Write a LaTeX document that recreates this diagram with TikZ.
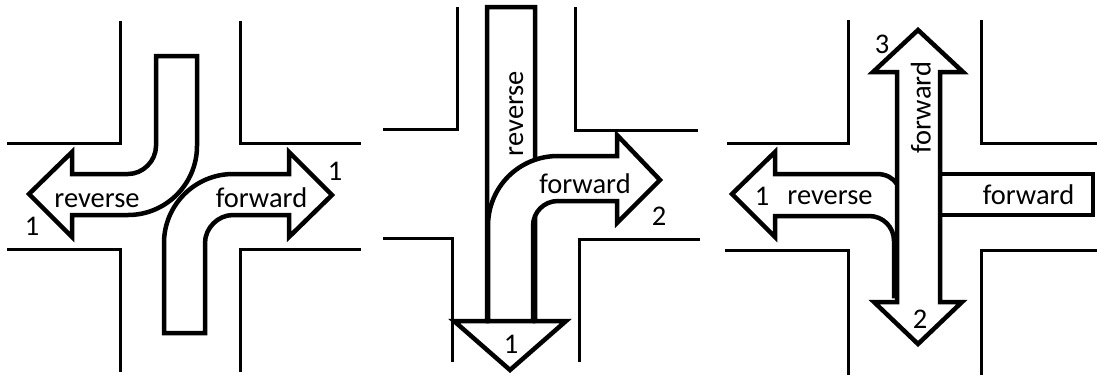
\documentclass[tikz,border=0pt]{standalone}
\usepackage{fontspec}
\setmainfont{Carlito}
\begin{document}
\begin{tikzpicture}[x=1pt,y=-1pt,
  road/.style={line width=3pt},
  lane/.style={line width=4.5pt,fill=white,miter limit=10},
  lbl/.style={font=\fontsize{28.5}{30}\selectfont,inner sep=0pt,anchor=base},
  vlbl/.style={lbl,rotate=90}]
\useasboundingbox (0,0) rectangle (1097,376);

% ---------- left crossing: two opposite turns ----------
\draw[road] (7,143) -- (120,143) -- (120,21);
\draw[road] (240,21) -- (240,143) -- (361,143);
\draw[road] (7,249) -- (120,249) -- (120,372);
\draw[road] (240,372) -- (240,249) -- (361,249);

\draw[lane] (156,56) -- (197,56) -- (197,146)
  .. controls (197,184) and (166,215) .. (128,215)
  -- (72,215) -- (72,237) -- (29,194) -- (72,152) -- (72,174) -- (128,174)
  .. controls (143,174) and (156,161) .. (156,146) -- cycle;
\draw[lane] (205,333) -- (164,333) -- (164,243)
  .. controls (164,205) and (195,174) .. (233,174)
  -- (289,174) -- (289,152) -- (332,195) -- (289,237) -- (289,215) -- (233,215)
  .. controls (218,215) and (205,228) .. (205,243) -- cycle;

\node[lbl] (revA) at (97,207) {reverse};
\node[lbl] (fwdA) at (261.5,207) {forward};
\node[lbl] (oneA) at (32,235) {1};
\node[lbl] (oneB) at (335,180) {1};

% ---------- middle crossing: straight back, forward turn ----------
\draw[road] (383,129) -- (457,129) -- (457,7);
\draw[road] (575,7) -- (575,130) -- (698,130);
\draw[road] (383,238) -- (452,238) -- (452,362);
\draw[road] (700,239) -- (579,239) -- (579,362);

\draw[lane] (487,7) -- (535,7) -- (535,321) -- (566,321) -- (510,370)
  -- (454,321) -- (487,321) -- cycle;
\draw[lane] (488,321) -- (488,226)
  .. controls (488,187) and (519,156) .. (558,156)
  -- (617,156) -- (617,135) -- (660,180) -- (617,223) -- (617,201) -- (558,201)
  .. controls (544,201) and (533,212) .. (533,226) -- (533,321) -- cycle;

\node[vlbl] (revB) at (523,113.5) {reverse};
\node[lbl] (fwdB) at (585,193.3) {forward};
\node[lbl] (oneC) at (511,353) {1};
\node[lbl] (twoA) at (659,225) {2};

% ---------- right crossing: straight through both ways ----------
\draw[road] (727,143) -- (848,143) -- (848,20);
\draw[road] (981,20) -- (981,143) -- (1097,143);
\draw[road] (725,250) -- (848,250) -- (848,375);
\draw[road] (1097,250) -- (981,250) -- (981,375);

\draw[lane] (775,174) -- (877,174)
  .. controls (886,174) and (893,178) .. (897,184)
  -- (905,184) -- (905,296) -- (894,296) -- (894,241)
  .. controls (894,227) and (883,216) .. (869,216)
  -- (775,216) -- (775,237) -- (732,194) -- (775,152) -- cycle;
\draw[lane] (940,174) rectangle (1093,215);
\draw[lane] (897,72) -- (873,72) -- (918,30) -- (963,72) -- (940,72)
  -- (940,302) -- (962,302) -- (918,344) -- (874,302) -- (897,302) -- cycle;

\node[lbl] (oneD) at (762,205) {1};
\node[lbl] (revC) at (830,204) {reverse};
\node[lbl] (fwdC) at (1028.5,204) {forward};
\node[vlbl] (fwdD) at (930.7,107.5) {forward};
\node[lbl] (three) at (882,53) {3};
\node[lbl] (twoB) at (920,328) {2};
\end{tikzpicture}
\end{document}
